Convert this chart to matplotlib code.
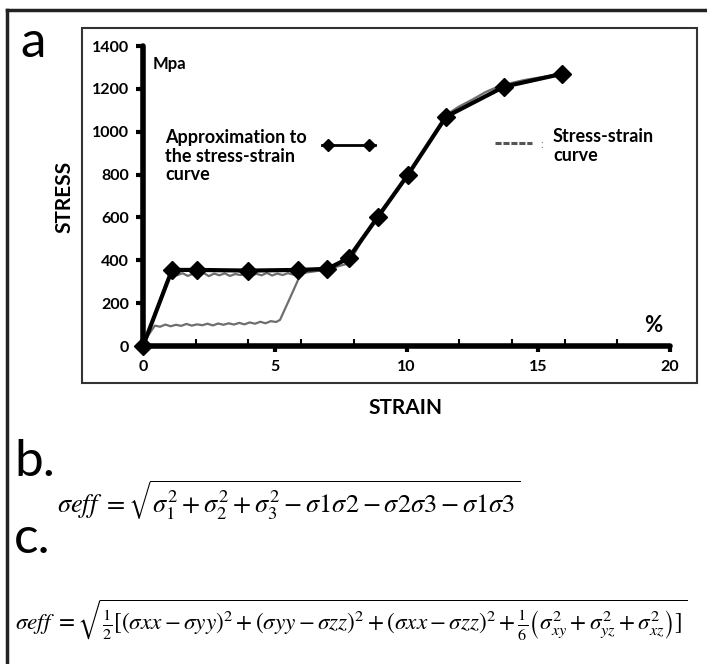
import numpy as np
import matplotlib
matplotlib.use('Agg')
import matplotlib.pyplot as plt
from matplotlib.lines import Line2D
from matplotlib.patches import Rectangle

plt.rcParams['font.family'] = ['Lato', 'DejaVu Sans']
plt.rcParams['mathtext.fontset'] = 'stix'

# Approximation to the stress-strain curve (diamond markers)
approx_strain = [0, 1.1, 2.05, 4.0, 5.9, 7.0, 7.8, 8.9, 10.06, 11.5, 13.7, 15.9]
approx_stress = [0, 355, 355, 352, 355, 360, 410, 600, 800, 1070, 1210, 1270]

# Measured stress-strain curve, loading branch
load_strain = [0, 0.3, 0.6, 0.9, 1.1, 1.3, 1.5, 1.7, 1.9, 2.1, 2.3, 2.5, 2.7, 2.9, 3.1,
               3.3, 3.5, 3.7, 3.9, 4.1, 4.3, 4.5, 4.7, 4.9, 5.1, 5.3, 5.5, 5.7, 5.9,
               6.2, 6.6, 7.0, 7.4, 7.8, 8.3, 8.9, 9.5, 10.1, 10.8, 11.5, 12.0, 12.5,
               13.0, 13.5, 14.0, 14.5, 15.0, 15.5, 15.9]
load_stress = [0, 95, 200, 300, 338, 330, 340, 327, 337, 329, 341, 326, 338, 330, 339,
               327, 336, 331, 340, 328, 337, 330, 341, 329, 338, 331, 340, 333, 341,
               343, 350, 356, 372, 385, 490, 612, 700, 808, 940, 1078, 1118, 1150,
               1185, 1212, 1228, 1242, 1252, 1262, 1268]

# Measured stress-strain curve, lower branch
low_strain = [0, 0.2, 0.45, 0.65, 0.85, 1.05, 1.25, 1.45, 1.65, 1.85, 2.05, 2.25, 2.45,
              2.65, 2.85, 3.05, 3.25, 3.45, 3.65, 3.85, 4.05, 4.25, 4.45, 4.65, 4.85,
              5.05, 5.2, 5.6, 6.0]
low_stress = [0, 50, 95, 90, 100, 92, 99, 94, 103, 95, 101, 97, 104, 96, 105, 99, 106,
              100, 108, 101, 110, 104, 113, 106, 116, 112, 122, 230, 340]

W, H = 707, 664
fig = plt.figure(figsize=(W / 100, H / 100), dpi=100)


def fx(px):
    return px / W


def fy(py):
    return 1 - py / H


# outer frame (top + left only visible)
fig.add_artist(Line2D([fx(7), fx(707)], [fy(10), fy(10)], color='#222222', lw=2.5))
fig.add_artist(Line2D([fx(7), fx(7)], [fy(10), fy(664)], color='#222222', lw=2.5))

# chart frame
fig.add_artist(Rectangle((fx(82), fy(383)), fx(697) - fx(82), fy(28) - fy(383),
                         transform=fig.transFigure, fill=False, ec='#333333', lw=1.5))

ax = fig.add_axes([fx(143), fy(346), (670 - 143) / W, 300 / H])
ax.set_xlim(0, 20)
ax.set_ylim(0, 1400)
for s in ['top', 'right']:
    ax.spines[s].set_visible(False)
for s in ['left', 'bottom']:
    ax.spines[s].set_linewidth(4)
    ax.spines[s].set_capstyle('round')

ax.plot(low_strain, low_stress, color='#6e6e6e', lw=1.6, clip_on=False)
ax.plot(load_strain, load_stress, color='#6e6e6e', lw=1.6, clip_on=False)
ax.plot(approx_strain, approx_stress, color='black', lw=3, marker='D',
        markersize=9.5, clip_on=False, zorder=5)

ax.set_xticks([0, 5, 10, 15, 20])
ax.set_xticks(np.arange(2, 20, 2), minor=True)
ax.set_yticks(np.arange(0, 1401, 200))
ax.tick_params(axis='x', which='major', direction='out', length=4, width=3, pad=6,
               labelsize=11.5)
ax.tick_params(axis='x', which='minor', direction='in', length=5, width=1.5)
ax.tick_params(axis='y', which='major', direction='out', length=5, width=3, pad=5,
               labelsize=11.5)
for lab in ax.get_xticklabels() + ax.get_yticklabels():
    lab.set_fontweight('bold')

fig.text(fx(64), fy(197), 'STRESS', rotation=90, ha='center', va='center',
         fontsize=15, fontweight='bold')
fig.text(fx(405), fy(408), 'STRAIN', ha='center', va='center', fontsize=15,
         fontweight='bold')
fig.text(fx(153), fy(64), 'Mpa', ha='left', va='center', fontsize=12, fontweight='bold')
fig.text(fx(653), fy(326), '%', ha='center', va='center', fontsize=16, fontweight='bold')

# legend
fig.text(fx(165), fy(156), 'Approximation to\nthe stress-strain\ncurve', ha='left',
         va='center', fontsize=13, fontweight='bold', linespacing=1.1)
fig.add_artist(Line2D([fx(322), fx(375)], [fy(145), fy(145)], color='black', lw=2))
fig.add_artist(Line2D([fx(328), fx(369)], [fy(145), fy(145)], color='black', lw=0,
                      marker='D', markersize=6))
fig.add_artist(Line2D([fx(495), fx(532)], [fy(143), fy(143)], color='#555555', lw=2.2,
                      ls=(0, (2, 0.6))))
fig.text(fx(542), fy(145), ':', ha='center', va='center', fontsize=8, color='#777777')
fig.text(fx(553), fy(146), 'Stress-strain\ncurve', ha='left', va='center',
         fontsize=13, fontweight='bold', linespacing=1.1)

# panel letters
fig.text(fx(20), fy(57), 'a', ha='left', va='baseline', fontsize=37)
fig.text(fx(14), fy(476), 'b.', ha='left', va='baseline', fontsize=37)
fig.text(fx(14), fy(553), 'c.', ha='left', va='baseline', fontsize=37)

eq_b = (r'$\sigma eff\ = \sqrt{\sigma_1^2+\sigma_2^2+\sigma_3^2-\sigma 1\sigma 2'
        r'-\sigma 2\sigma 3-\sigma 1\sigma 3}$')
eq_c = (r'$\sigma eff\ = \sqrt{\frac{1}{2}[(\sigma xx-\sigma yy)^2+(\sigma yy-\sigma zz)^2'
        r'+(\sigma xx-\sigma zz)^2+\frac{1}{6}\left(\sigma_{xy}^2+\sigma_{yz}^2'
        r'+\sigma_{xz}^2\right)]}$')
fig.text(fx(57), fy(500), eq_b, ha='left', va='center', fontsize=19)
fig.text(fx(15), fy(620), eq_c, ha='left', va='center', fontsize=16.7)

fig.savefig('out.png', dpi=100)
